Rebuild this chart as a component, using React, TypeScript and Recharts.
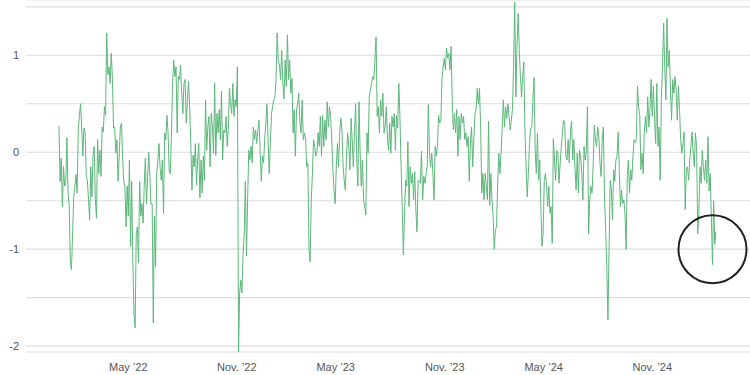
import React from 'react';
import { LineChart, Line, XAxis, YAxis, CartesianGrid, ReferenceDot } from 'recharts';

const DAY = 24 * 60 * 60 * 1000;
const startDate = Date.UTC(2022, 0, 3);
const stepDays = 2;

// index values, one reading every 2 days from Jan 3 2022
const values = [
  // Jan - Jul 2022
  0.27, -0.3, -0.06, -0.56, -0.15, -0.35, -0.32, 0.15, -0.41, -0.56,
  -1.13, -1.21, -0.84, -0.46, -0.35, -0.23, -0.42, 0.23, 0.38, 0.5,
  0.26, -0.04, 0.25, 0.2, -0.25, -0.29, -0.49, -0.7, -0.15, -0.46,
  -0.04, 0.06, -0.49, -0.68, 0.13, -0.22, 0.02, -0.25, 0.26, 0.21,
  0.47, 0.38, 1.23, 0.8, 0.88, 0.71, 1.02, 0.78, 0.25, 0.26,
  -0.01, 0.13, -0.3, -0.04, 0.26, 0.3, -0.04, -0.3, -0.35, -0.77,
  -0.35, -0.66, -0.08, -0.97, -0.3, -1.11, -1.66, -1.81, -0.84, -0.77,
  -1.14, -0.3, -0.66, -0.53, -0.73, -0.35, -0.06, -0.53, -0.25, 0.0,
  -0.25, -0.54, -0.53, -1.76, -0.66, -1.18, -0.22, -0.08, 0.09, -0.16,
  -0.29, -0.08, -0.63, 0.2, 0.13, 0.38, 0.2, -0.2,
  // Jul 2022 - Jan 2023
  -0.22, 0.2, 0.72, 0.95, 0.78, 0.88, 0.2, 0.78, 0.75, 0.9,
  0.61, 0.4, 0.71, 0.75, 0.3, 0.54, 0.73, 0.47, 0.09, -0.39,
  -0.03, -0.15, 0.09, -0.34, -0.08, 0.09, -0.47, -0.08, -0.42, -0.04,
  -0.29, 0.54, 0.02, 0.26, 0.37, -0.15, 0.4, 0.26, -0.01, 0.71,
  -0.03, 0.4, 0.2, 0.44, 0.13, 0.63, -0.08, 0.23, 0.2, 0.37,
  0.06, 0.23, 0.66, 0.5, 0.4, 0.71, 0.37, 0.54, 0.47, 0.88,
  -2.06, -1.45, -1.32, -1.45, -1.04, -0.84, -0.3, -1.07, -0.49, 0.02,
  -0.08, 0.06, -0.11, 0.26, 0.13, 0.23, 0.09, 0.23, 0.33, 0.02,
  -0.3, -0.04, -0.11, 0.13, 0.3, 0.5, 0.13, -0.22, 0.09, 0.4,
  0.47, 0.54, 0.57, 0.75, 1.23, 0.95, 0.9,
  // Jan - Jul 2023
  0.75, 1.05, 0.71, 0.55, 0.95, 0.68, 1.21, 0.75, 0.95, 0.61,
  0.76, 0.2, 0.44, -0.04, 0.44, 0.5, 0.61, 0.3, 0.2, 0.54,
  0.13, 0.2, 0.13, -0.15, -0.11, -1.0, -1.13, -0.49, -0.22, 0.13,
  0.06, -0.04, 0.0, 0.2, 0.06, 0.37, -0.04, 0.38, 0.06, 0.33,
  0.13, 0.52, 0.26, 0.47, 0.37, 0.13, -0.18, -0.4, -0.53, -0.15,
  0.09, -0.15, 0.2, 0.35, 0.23, -0.15, -0.29, -0.39, -0.04, 0.2,
  0.06, -0.18, 0.35, 0.13, -0.15, 0.2, 0.5, -0.08, -0.35, 0.52,
  -0.01, -0.35, -0.08, -0.49, -0.56, -0.65, 0.2, -0.01, 0.57, 0.64,
  0.71, 0.78, 0.75, 0.95, 1.19, 0.37, 0.47, 0.2, 0.54, 0.37,
  0.61, 0.2, 0.26, 0.47, 0.16, 0.02, 0.3,
  // Jul 2023 - Jan 2024
  -0.01, 0.37, 0.26, 0.4, 0.02, 0.38, 0.25, 0.71, 0.37, -0.15,
  -0.56, -1.06, -0.66, -0.29, -0.35, 0.11, -0.56, -0.15, -0.32, -0.22,
  -0.49, -0.2, -0.59, -0.82, -0.29, -0.3, -0.32, 0.01, -0.49, -0.25,
  -0.32, -0.22, -0.15, 0.49, -0.01, -0.15, -0.01, -0.22, -0.49, 0.06,
  -0.04, 0.06, 0.38, 0.3, 0.33, 0.76, 0.88, 0.97, 0.85, 1.07,
  0.97, 1.02, 0.85, 1.09, 0.54, 0.23, 0.4, 0.2, 0.44, -0.04,
  0.37, 0.13, 0.4, 0.3, 0.37, 0.13, 0.2, 0.06, 0.16, -0.3,
  0.09, 0.26, -0.15, 0.13, 0.4, 0.44, 0.66, 0.5, 0.66, 0.26,
  -0.42, -0.22, -0.49, -0.22, -0.35, -0.49, 0.32, -0.55, -0.22, -0.49,
  -0.66, -1.0, -0.8, -0.77, -0.32, -0.01, -0.22,
  // Jan - Jul 2024
  -0.01, 0.26, 0.54, 0.26, 0.47, 0.35, 0.5, 0.37, 0.23, 0.33,
  0.44, 0.88, 1.55, 0.57, 1.12, 1.43, 1.05, 0.78, 0.57, 0.78,
  0.93, 0.2, -0.15, -0.46, -0.22, 0.09, 0.25, 0.26, 0.54, 0.77,
  0.02, -0.22, 0.2, -0.29, -0.08, -0.56, -0.97, -0.84, -0.29, -0.22,
  -0.35, -0.56, -0.35, -0.63, -0.56, -0.94, 0.14, -0.08, -0.29, 0.02,
  -0.01, -0.32, -0.11, 0.06, 0.2, 0.33, 0.3, -0.04, -0.08, 0.13,
  -0.11, 0.21, 0.32, -0.08, 0.13, -0.15, -0.39, -0.01, -0.42, 0.02,
  -0.04, -0.22, -0.49, 0.06, -0.08, 0.02, 0.47, -0.84, -0.49, -0.35,
  -0.42, -0.15, 0.28, 0.13, 0.06, 0.26, 0.16, -0.11, -0.25, 0.13,
  0.26, -0.49, -0.8, -1.18, -1.73, -1.0,
  // Jul 2024 - Mar 2025
  -0.29, -0.37, -0.7, -0.18, -0.3, -0.08, -0.04, 0.21, -0.18, -0.56,
  -0.39, -0.53, -0.49, -0.63, -1.0, -0.25, -0.08, -0.42, -0.18, -0.29,
  -0.04, 0.13, 0.1, 0.13, 0.68, 0.47, 0.38, -0.18, -0.01, -0.22,
  0.2, 0.37, 0.2, 0.57, 0.26, 0.44, 0.75, 0.37, 0.68, 0.37,
  0.09, 0.71, 0.06, 0.26, -0.29, 0.54, 0.88, 1.33, 0.88, 0.54,
  1.38, 0.88, 1.05, 0.66, 0.33, 0.75, 0.61, 0.78, 0.64, 0.33,
  0.68, 0.44, 0.13, -0.01, 0.09, 0.21, -0.59, -0.18, -0.15, -0.29,
  -0.08, 0.06, 0.21, -0.01, -0.15, 0.2, 0.06, -0.84, -0.63, -0.15,
  -0.32, 0.02, -0.15, -0.29, -0.08, -0.32, 0.16, -0.4, -0.22, -0.66,
  -1.16, -0.5, -0.95, -0.82,
];

const tickDates = [
  Date.UTC(2022, 4, 5),
  Date.UTC(2022, 10, 12),
  Date.UTC(2023, 4, 5),
  Date.UTC(2023, 10, 13),
  Date.UTC(2024, 4, 5),
  Date.UTC(2024, 10, 12),
];
const tickLabels = ['May ’22', 'Nov. ’22', 'May ’23', 'Nov. ’23', 'May ’24', 'Nov. ’24'];

const yTicks = [-2, -1.5, -1, -0.5, 0, 0.5, 1, 1.5];

// the circled reading near the end
const highlight = { date: startDate + 1150 * DAY, value: -1.0 };

const data = values.map((v, i) => ({ t: startDate + i * stepDays * DAY, value: v }));

const labelFor = (t: number) => {
  const idx = tickDates.indexOf(t);
  return idx >= 0 ? tickLabels[idx] : '';
};

const App = () => {
  return (
    <div style={{ position: 'absolute', left: 0, top: 0, width: 750, height: 375, background: '#fff' }}>
      <LineChart width={750} height={375} data={data} margin={{ top: 0, right: 0, bottom: 0, left: 0 }}>
        <CartesianGrid vertical={false} stroke="#dddddd" strokeWidth={1.2} />
        <XAxis
          dataKey="t"
          type="number"
          domain={[startDate - 58 * DAY, startDate + 1216 * DAY]}
          ticks={tickDates}
          tickFormatter={labelFor}
          axisLine={false}
          tickLine={false}
          tickSize={0}
          tickMargin={11}
          height={23}
          tick={{ fontSize: 11, fill: '#555', fontFamily: 'Liberation Sans, Arial, sans-serif' }}
        />
        <YAxis
          type="number"
          domain={[-2.06, 1.57]}
          ticks={yTicks}
          tickFormatter={(v: number) => (Number.isInteger(v) ? String(v) : '')}
          axisLine={false}
          tickLine={false}
          tickSize={0}
          tickMargin={7}
          width={26}
          tick={{ fontSize: 11, fill: '#555', fontFamily: 'Liberation Sans, Arial, sans-serif' }}
        />
        <Line
          type="linear"
          dataKey="value"
          stroke="#5db77b"
          strokeWidth={1}
          dot={false}
          isAnimationActive={false}
        />
        <ReferenceDot
          x={highlight.date}
          y={highlight.value}
          r={34}
          fill="none"
          stroke="#222"
          strokeWidth={2}
        />
      </LineChart>
    </div>
  );
};

export default App;
